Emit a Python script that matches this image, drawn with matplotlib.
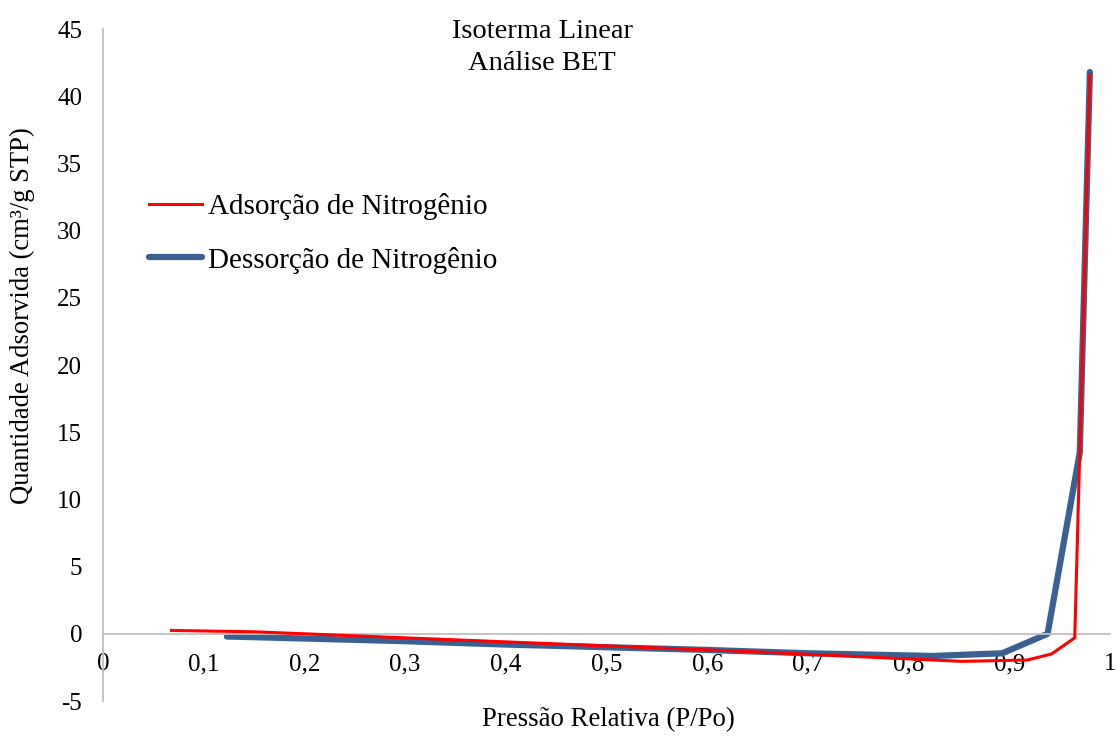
import matplotlib
matplotlib.use('Agg')
import matplotlib.pyplot as plt

# dados
adsX = [0.068, 0.15, 0.25, 0.35, 0.45, 0.55, 0.65, 0.75, 0.853, 0.918, 0.942, 0.965, 0.980]
adsY = [0.25, 0.15, -0.15, -0.45, -0.75, -1.05, -1.35, -1.7, -2.05, -1.95, -1.5, -0.3, 41.6]

desX = [0.123, 0.2, 0.3, 0.4, 0.5, 0.6, 0.7, 0.824, 0.893, 0.938, 0.970, 0.980]
desY = [-0.2, -0.35, -0.55, -0.8, -1.0, -1.2, -1.45, -1.65, -1.45, 0.0, 13.5, 41.8]

xTicks = [0, 0.1, 0.2, 0.3, 0.4, 0.5, 0.6, 0.7, 0.8, 0.9, 1]
xLabels = ['0', '0,1', '0,2', '0,3', '0,4', '0,5', '0,6', '0,7', '0,8', '0,9', '1']
yTicks = [-5, 0, 5, 10, 15, 20, 25, 30, 35, 40, 45]

plt.rcParams['font.family'] = ['Liberation Serif', 'DejaVu Serif']
plt.rcParams['axes.unicode_minus'] = False
axisColor = '#BFBFBF'

fig = plt.figure(figsize=(11.18, 7.36), dpi=100)
ax = fig.add_axes([103/1118, 1 - 701/736, (1110 - 103)/1118, (701 - 29)/736])

ax.plot(adsX, adsY, color='#FF0000', lw=2.2, label='Adsorção de Nitrogênio', zorder=3)
ax.plot(desX, desY, color='#3A6194', lw=4.5, solid_capstyle='round',
        label='Dessorção de Nitrogênio', zorder=2)

ax.set_xlim(0, 1)
ax.set_ylim(-5, 45)
ax.set_xticks(xTicks)
ax.set_xticklabels(xLabels)
ax.set_yticks(yTicks)

ax.spines['top'].set_visible(False)
ax.spines['right'].set_visible(False)
ax.spines['left'].set_color(axisColor)
ax.spines['left'].set_linewidth(1.3)
ax.spines['bottom'].set_position(('data', 0))
ax.spines['bottom'].set_color(axisColor)
ax.spines['bottom'].set_linewidth(1.3)
ax.tick_params(axis='both', length=0, labelsize=18)
ax.tick_params(axis='y', pad=15)
ax.tick_params(axis='x', pad=14)

fig.text(0.485, 1 - 31/736, 'Isoterma Linear', ha='center', va='center', fontsize=20.5)
fig.text(0.485, 1 - 64/736, 'Análise BET', ha='center', va='center', fontsize=20.5)
fig.text(608/1118, 1 - 720/736, 'Pressão Relativa (P/Po)', ha='center', va='center', fontsize=19.3)
fig.text(22/1118, 1 - 316/736, 'Quantidade Adsorvida (cm³/g STP)', ha='center', va='center',
         rotation=90, fontsize=19.2)

ax.legend(loc='upper left', bbox_to_anchor=(0.02, 0.795), frameon=False, fontsize=21,
          handlelength=1.8, handletextpad=0.2, labelspacing=0.91)

fig.savefig('out.png', dpi=100)
